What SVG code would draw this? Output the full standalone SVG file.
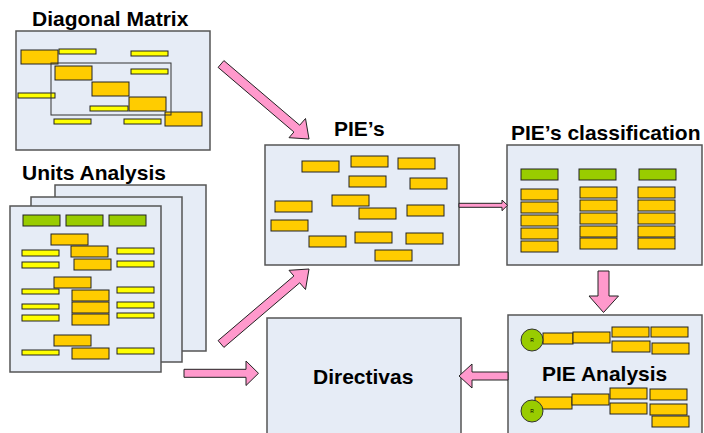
<svg xmlns="http://www.w3.org/2000/svg" width="704" height="433" viewBox="0 0 704 433">
<style>
.page{fill:#E6ECF6;stroke:#555;stroke-width:1.5}
.o{fill:#FFCC00;stroke:#222;stroke-width:1}
.y{fill:#FFFF00;stroke:#222;stroke-width:1}
.g{fill:#99CC00;stroke:#222;stroke-width:1}
.t{font-family:"Liberation Sans",Arial,sans-serif;font-weight:bold;font-size:21px;fill:#000}
.arr{fill:#FF99CC;stroke:#222;stroke-width:1;stroke-linejoin:miter}
.r{font-family:"Liberation Sans",Arial,sans-serif;font-size:5px;fill:#000}
</style>
<rect width="704" height="433" fill="#fff"/>

<g id="diagonal-matrix">
<text class="t" x="32" y="26">Diagonal Matrix</text>
<rect class="page" x="16" y="31" width="194" height="119"/>
<rect class="o" x="21" y="50" width="37" height="14"/>
<rect class="y" x="59" y="49" width="37" height="5"/>
<rect class="y" x="131" y="51" width="37" height="5"/>
<rect class="o" x="55" y="66" width="37" height="14"/>
<rect class="y" x="131" y="69" width="37" height="5"/>
<rect class="o" x="92" y="82" width="37" height="14"/>
<rect class="y" x="18" y="93" width="37" height="5"/>
<rect class="y" x="90" y="106" width="38" height="5"/>
<rect class="o" x="129" y="97" width="37" height="14"/>
<rect class="y" x="54" y="119" width="37" height="5"/>
<rect class="y" x="124" y="119" width="37" height="5"/>
<rect class="o" x="165" y="112" width="37" height="14"/>
<rect x="51" y="63" width="120" height="52" fill="none" stroke="#333" stroke-width="1"/>
</g>

<g id="units-analysis">
<text class="t" x="22" y="180">Units Analysis</text>
<rect class="page" x="55" y="185" width="151" height="166" stroke="#222"/>
<rect class="page" x="31" y="197" width="151" height="165" stroke="#222"/>
<rect class="page" x="10" y="206" width="151" height="166"/>
<rect class="g" x="23" y="215" width="37" height="11"/>
<rect class="g" x="66" y="215" width="37" height="11"/>
<rect class="g" x="109" y="215" width="37" height="11"/>
<rect class="o" x="51" y="234" width="37" height="11"/>
<rect class="y" x="22" y="250" width="37" height="6"/>
<rect class="o" x="71" y="246" width="37" height="11"/>
<rect class="y" x="117" y="248" width="37" height="6"/>
<rect class="y" x="22" y="262" width="37" height="6"/>
<rect class="o" x="74" y="259" width="37" height="11"/>
<rect class="y" x="117" y="261" width="37" height="6"/>
<rect class="o" x="54" y="277" width="37" height="11"/>
<rect class="y" x="22" y="289" width="37" height="5"/>
<rect class="o" x="72" y="290" width="37" height="11"/>
<rect class="y" x="117" y="287" width="37" height="6"/>
<rect class="y" x="22" y="304" width="37" height="5"/>
<rect class="o" x="72" y="302" width="37" height="11"/>
<rect class="y" x="117" y="302" width="37" height="6"/>
<rect class="y" x="22" y="315" width="37" height="6"/>
<rect class="o" x="72" y="314" width="37" height="11"/>
<rect class="y" x="117" y="313" width="37" height="5"/>
<rect class="o" x="54" y="335" width="37" height="11"/>
<rect class="y" x="22" y="350" width="37" height="5"/>
<rect class="o" x="72" y="348" width="37" height="11"/>
<rect class="y" x="117" y="348" width="37" height="6"/>
</g>

<g id="pies">
<text class="t" x="334" y="136">PIE’s</text>
<rect class="page" x="265" y="145" width="194" height="120"/>
<rect class="o" x="302" y="161" width="37" height="11"/>
<rect class="o" x="351" y="156" width="37" height="11"/>
<rect class="o" x="398" y="158" width="37" height="11"/>
<rect class="o" x="349" y="176" width="37" height="11"/>
<rect class="o" x="410" y="178" width="37" height="11"/>
<rect class="o" x="332" y="195" width="37" height="11"/>
<rect class="o" x="275" y="201" width="37" height="11"/>
<rect class="o" x="359" y="208" width="37" height="11"/>
<rect class="o" x="407" y="205" width="37" height="11"/>
<rect class="o" x="271" y="220" width="37" height="11"/>
<rect class="o" x="309" y="236" width="37" height="11"/>
<rect class="o" x="355" y="232" width="37" height="11"/>
<rect class="o" x="406" y="233" width="37" height="11"/>
<rect class="o" x="375" y="250" width="37" height="11"/>
</g>

<g id="pies-classification">
<text class="t" x="511" y="140">PIE’s classification</text>
<rect class="page" x="507" y="145" width="195" height="120"/>
<rect class="g" x="521" y="169" width="37" height="11"/>
<rect class="g" x="579" y="169" width="37" height="11"/>
<rect class="g" x="639" y="169" width="37" height="11"/>
<rect class="o" x="521" y="189" width="37" height="11"/>
<rect class="o" x="521" y="202" width="37" height="11"/>
<rect class="o" x="521" y="215" width="37" height="11"/>
<rect class="o" x="521" y="228" width="37" height="11"/>
<rect class="o" x="521" y="241" width="37" height="11"/>
<rect class="o" x="580" y="187" width="37" height="11"/>
<rect class="o" x="580" y="200" width="37" height="11"/>
<rect class="o" x="580" y="213" width="37" height="11"/>
<rect class="o" x="580" y="226" width="37" height="11"/>
<rect class="o" x="580" y="238" width="37" height="11"/>
<rect class="o" x="638" y="187" width="37" height="11"/>
<rect class="o" x="638" y="200" width="37" height="11"/>
<rect class="o" x="638" y="213" width="37" height="11"/>
<rect class="o" x="638" y="226" width="37" height="11"/>
<rect class="o" x="638" y="238" width="37" height="11"/>
</g>

<g id="pie-analysis">
<rect class="page" x="508" y="315" width="194" height="130"/>
<rect class="o" x="543" y="333" width="30" height="11"/>
<rect class="o" x="573" y="332" width="37" height="11"/>
<rect class="o" x="612" y="327" width="37" height="10"/>
<rect class="o" x="651" y="327" width="37" height="10"/>
<rect class="o" x="612" y="341" width="38" height="11"/>
<rect class="o" x="652" y="343" width="37" height="11"/>
<circle cx="532" cy="340" r="11" fill="#99CC00" stroke="#333" stroke-width="1"/>
<text class="r" x="532" y="342" text-anchor="middle">R</text>
<text class="t" x="542" y="381">PIE Analysis</text>
<rect class="o" x="535" y="397" width="37" height="12"/>
<rect class="o" x="572" y="394" width="37" height="11"/>
<rect class="o" x="610" y="388" width="37" height="11"/>
<rect class="o" x="650" y="389" width="37" height="11"/>
<rect class="o" x="610" y="403" width="37" height="11"/>
<rect class="o" x="650" y="404" width="37" height="11"/>
<rect class="o" x="652" y="416" width="37" height="11"/>
<circle cx="532" cy="411" r="11" fill="#99CC00" stroke="#333" stroke-width="1"/>
<text class="r" x="532" y="413" text-anchor="middle">R</text>
</g>

<g id="directivas">
<rect class="page" x="267" y="318" width="194" height="127"/>
<text class="t" x="313" y="384">Directivas</text>
</g>

<g id="connectors">
<polygon class="arr" points="218.1,67.4 293.9,132 289,137.7 309,139 305.5,118.5 299.7,125.2 223.9,60.6"/>
<polygon class="arr" points="218.1,340.6 293.9,276 289,270.3 309,269 305.5,289.5 299.7,282.8 223.9,347.4"/>
<polygon class="arr" points="184,369.3 246,369.3 246,361 258.5,373.3 246,385.5 246,377.3 184,377.3"/>
<polygon class="arr" points="508,372 472,372 472,364 459,376 472,388 472,380 508,380"/>
<polygon class="arr" points="459,203.3 502,203.3 502,200 507.5,205.3 502,210.7 502,207.3 459,207.3"/>
<polygon class="arr" points="598,271 609,271 609,296 618.5,296 603.5,312.5 589,296 598,296"/>
</g>
</svg>
